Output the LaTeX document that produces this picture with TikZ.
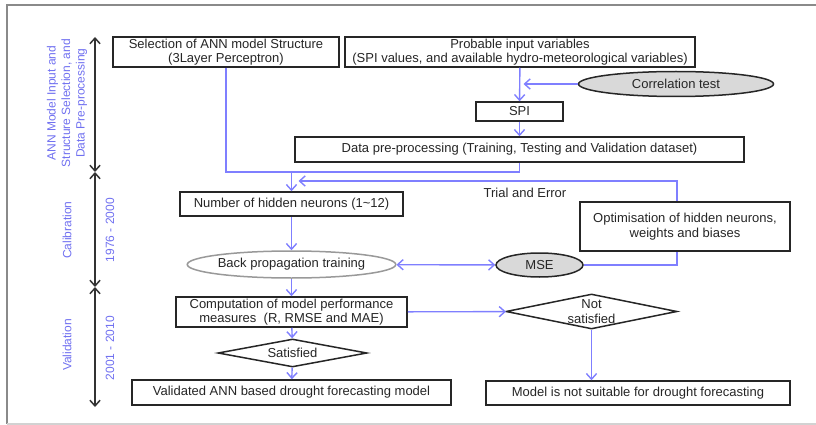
\documentclass[tikz,border=0pt]{standalone}
\usepackage{fontspec}
\setmainfont{Liberation Sans}
\usetikzlibrary{arrows.meta,positioning,shapes.geometric,calc}
\definecolor{linkblue}{HTML}{7F7FFF}
\definecolor{labelblue}{HTML}{7070F0}
\definecolor{framegray}{HTML}{8A8A8A}
\definecolor{boxline}{HTML}{262626}
\definecolor{softgray}{HTML}{D9D9D9}

\begin{document}
\begin{tikzpicture}[
    x=1pt, y=-1pt,
    font=\fontsize{13}{14.5}\selectfont, text=black!85,
    box/.style={draw=boxline, line width=1.5pt, fill=white, inner sep=0pt, align=center},
    oval/.style={ellipse, draw=boxline, line width=1.5pt, fill=softgray, inner sep=0pt},
    choice/.style={diamond, draw=boxline, line width=1.5pt, fill=white, inner sep=0pt, align=center},
    arrow/.style={-{Straight Barb[length=2mm, width=3.6mm]}, line width=1.4pt, draw=linkblue},
    twoway/.style={{Straight Barb[length=2mm, width=3.6mm]}-{Straight Barb[length=2mm, width=3.6mm]}, line width=1.4pt, draw=linkblue},
    link/.style={line width=1.4pt, draw=linkblue},
    period/.style={{Straight Barb[length=2mm, width=3.6mm]}-{Straight Barb[length=2mm, width=3.6mm]}, line width=1.5pt, draw=black!80},
    phase/.style={text=labelblue, rotate=90, align=center, font=\fontsize{12}{14.5}\selectfont}
]
\useasboundingbox (0,0) rectangle (816,425);
% outer frame
\draw[framegray, line width=1.8pt] (816,5) -- (7,5) -- (7,424);
\draw[gray!35, line width=1.8pt] (7,424) -- (816,424);

% phase labels and time spans
\node[phase] (lab1) at (67,103) {ANN Model Input and\\Structure Selection, and\\Data Pre-processing};
\node[phase] (lab2) at (67,230) {Calibration};
\node[phase] (yr2) at (110,230) {1976 - 2000};
\node[phase] (lab3) at (67,345) {Validation};
\node[phase] (yr3) at (110,348) {2001 - 2010};
\coordinate (p0) at (95,37);
\coordinate (p1) at (95,172);
\coordinate (p2) at (95,287);
\coordinate (p3) at (95,407);
\draw[period] (p0) -- (p1);
\draw[period] (p1) -- (p2);
\draw[period] (p2) -- (p3);

% flow chart
\node[box, minimum width=226, minimum height=30] (sel) at (226,52) {Selection of ANN model Structure\\(3Layer Perceptron)};
\node[box, minimum width=350, minimum height=30] (prob) at (520,52) {Probable input variables\\(SPI values, and available hydro-meteorological variables)};
\node[oval, minimum width=195, minimum height=25] (corr) at (676,84) {Correlation test};
\node[box, minimum width=87, minimum height=19] (spi) at (519.5,111.5) {SPI};
\node[box, minimum width=449, minimum height=25] (data) at (519.5,149.5) {Data pre-processing (Training, Testing and Validation dataset)};
\node[box, minimum width=223, minimum height=24] (hid) at (291.5,204) {Number of hidden neurons (1\textasciitilde12)};
\node[oval, draw=gray!80, fill=white, minimum width=199, minimum height=27] (bp) at (291.5,264.5) {Back propagation training};
\node[oval, minimum width=87, minimum height=24] (mse) at (539.5,265) {MSE};
\node[box, minimum width=231, minimum height=30] (comp) at (291.5,312) {Computation of model performance\\measures\ \ (R, RMSE and MAE)};
\node[choice, aspect=5.3, minimum width=149, minimum height=28] (sat) at (292.5,353) {Satisfied};
\node[choice, aspect=4.9, minimum width=171, minimum height=35] (nsat) at (591.5,311.5) {Not\\satisfied};
\node[box, minimum width=319, minimum height=25] (val) at (291.5,392.5) {Validated ANN based drought forecasting model};
\node[box, minimum width=304, minimum height=24] (nsuit) at (638,393) {Model is not suitable for drought forecasting};

\coordinate (merge) at (291.5,172);
\coordinate (loop) at (677,181);
\draw[link] (sel) |- (merge) -- (merge -| data.south) -- (data);
\draw[arrow] (merge) -- (hid);
\draw[arrow] (mse) -| (loop) -- ($(loop -| merge)+(7,0)$);
\node (trial) at (525,193) {Trial and Error};
\node[box, minimum width=210, minimum height=49] (opt) at (685,226.5) {Optimisation of hidden neurons,\\weights and biases};

\draw[arrow] (prob) -- (spi);
\draw[arrow] (corr) -- ($(corr -| spi)+(4,0)$);
\draw[arrow] (spi) -- (data);
\draw[arrow] (hid) -- (bp);
\draw[twoway] (bp) -- (mse);
\draw[arrow] (bp) -- (comp);
\draw[arrow] (comp) -- (sat);
\draw[arrow] (sat) -- (val);
\draw[arrow] (comp) -- (nsat);
\draw[arrow] (nsat) -- (nsat |- nsuit.north);
\end{tikzpicture}
\end{document}
